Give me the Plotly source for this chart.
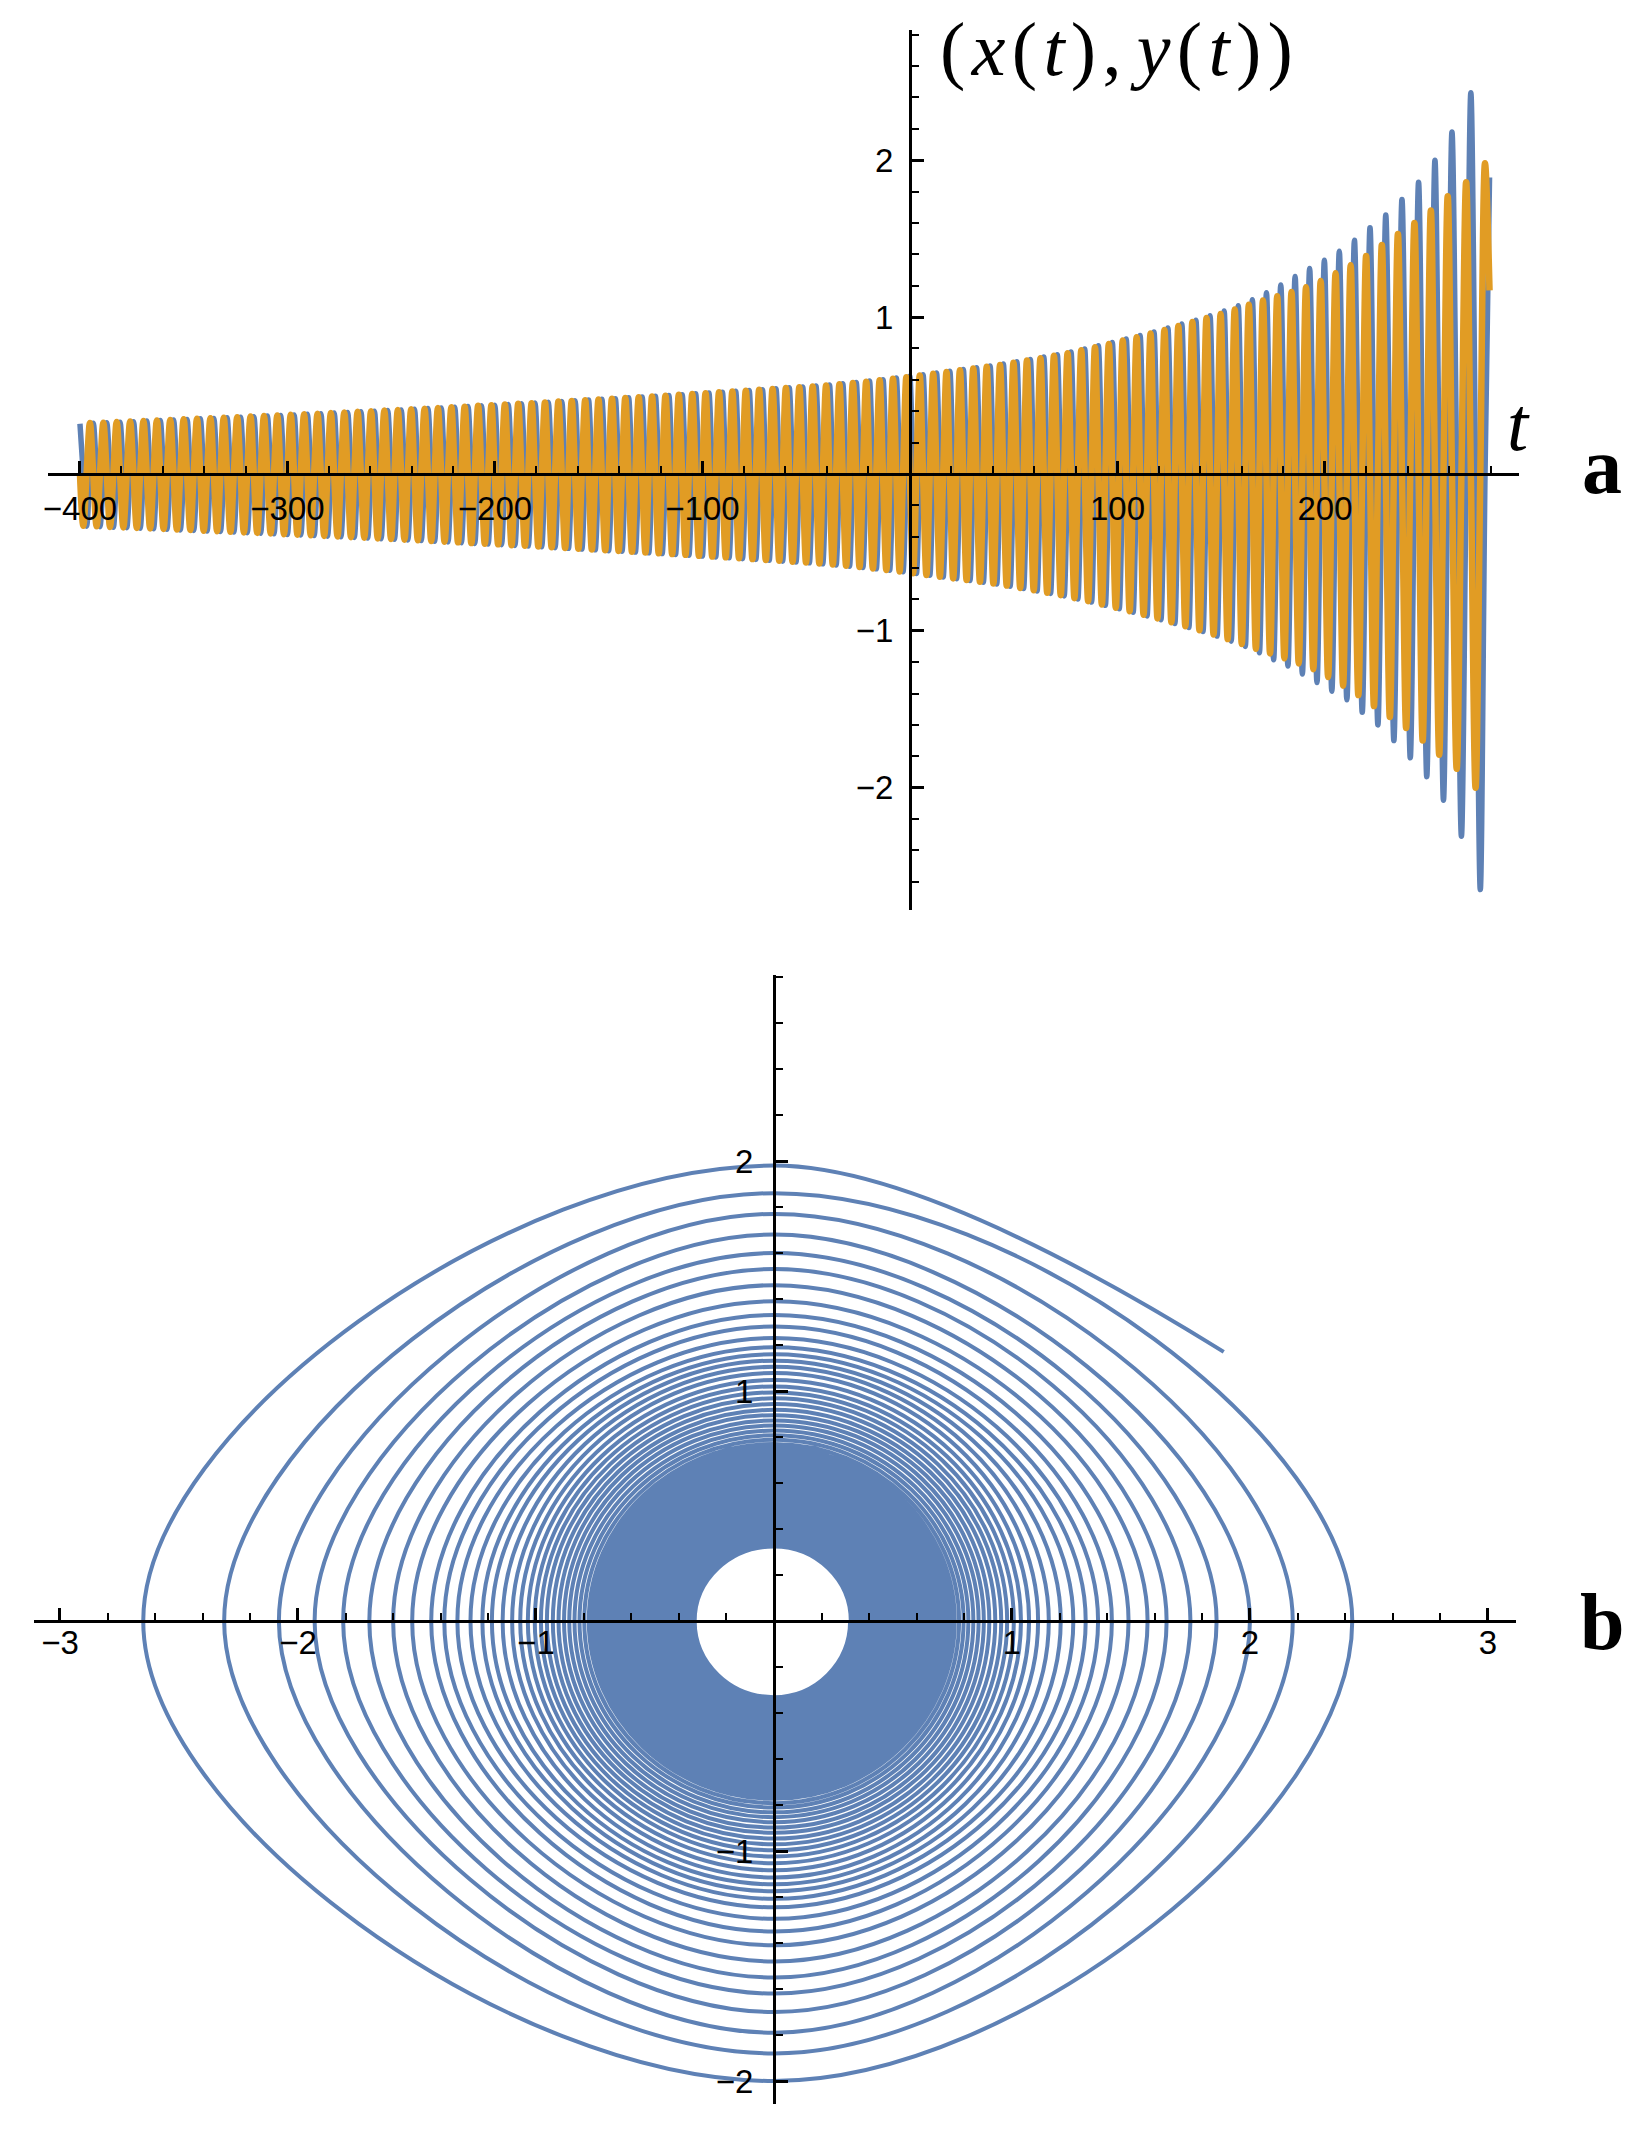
import plotly.graph_objects as go

# ---------------- data ----------------
# time of every maximum of x(t) (one per turn of the spiral)
t_xmax = [-400.0, -393.6, -387.1, -380.7, -374.2, -367.8, -361.3, -354.9, -348.4, -342.0,
          -335.5, -329.1, -322.6, -316.2, -309.7, -303.3, -296.8, -290.4, -283.9, -277.5,
          -271.0, -264.6, -258.1, -251.7, -245.2, -238.8, -232.3, -225.9, -219.4, -213.0,
          -206.5, -200.1, -193.6, -187.2, -180.7, -174.3, -167.8, -161.4, -154.9, -148.5,
          -142.0, -135.6, -129.1, -122.7, -116.2, -109.8, -103.3, -96.9, -90.4, -84.0,
          -77.5, -71.1, -64.6, -58.2, -51.7, -45.3, -38.8, -32.4, -25.9, -19.5,
          -13.0, -6.6, -0.1, 6.3, 12.8, 19.2, 25.7, 32.1, 38.6,
          45.0, 51.5, 58.0, 64.5, 71.0, 77.6, 84.2, 90.8, 97.5, 104.2,
          110.9, 117.6, 124.3, 131.0, 137.8, 144.6, 151.4, 158.2, 165.0, 171.8,
          178.7, 185.6, 192.6, 199.7, 206.9, 214.2, 221.7, 229.3, 237.1, 245.1,
          253.0, 261.2, 270.3]

# x maximum of each turn (right crossing of the spiral)
x_max = [0.320, 0.323, 0.327, 0.330, 0.333, 0.337, 0.340, 0.344, 0.347, 0.351,
         0.354, 0.358, 0.362, 0.365, 0.369, 0.373, 0.376, 0.380, 0.384, 0.388,
         0.392, 0.396, 0.400, 0.404, 0.408, 0.412, 0.417, 0.421, 0.425, 0.430,
         0.434, 0.438, 0.443, 0.447, 0.452, 0.457, 0.461, 0.466, 0.471, 0.476,
         0.480, 0.485, 0.490, 0.495, 0.500, 0.505, 0.511, 0.516, 0.521, 0.527,
         0.532, 0.537, 0.543, 0.549, 0.554, 0.560, 0.567, 0.575, 0.583, 0.592,
         0.601, 0.611, 0.622, 0.633, 0.644, 0.655, 0.666, 0.677, 0.688,
         0.700, 0.715, 0.730, 0.745, 0.760, 0.778, 0.797, 0.817, 0.838, 0.860,
         0.882, 0.905, 0.930, 0.955, 0.980, 1.008, 1.038, 1.072, 1.110, 1.155,
         1.205, 1.258, 1.310, 1.362, 1.420, 1.490, 1.570, 1.650, 1.750, 1.860,
         2.000, 2.180, 2.430]

# y minimum of each turn (bottom crossing)
y_min = [-0.331, -0.334, -0.338, -0.341, -0.344, -0.348, -0.351, -0.355, -0.358, -0.362,
         -0.365, -0.369, -0.373, -0.376, -0.380, -0.384, -0.387, -0.391, -0.395, -0.399,
         -0.403, -0.407, -0.411, -0.415, -0.419, -0.423, -0.428, -0.432, -0.436, -0.441,
         -0.445, -0.449, -0.454, -0.458, -0.463, -0.468, -0.472, -0.477, -0.482, -0.487,
         -0.491, -0.496, -0.501, -0.506, -0.511, -0.516, -0.522, -0.527, -0.532, -0.538,
         -0.543, -0.548, -0.554, -0.560, -0.565, -0.571, -0.578, -0.586, -0.594, -0.603,
         -0.612, -0.622, -0.633, -0.644, -0.655, -0.666, -0.677, -0.688, -0.699,
         -0.712, -0.727, -0.742, -0.757, -0.773, -0.792, -0.811, -0.832, -0.853, -0.875,
         -0.898, -0.921, -0.946, -0.971, -0.997, -1.024, -1.053, -1.084, -1.115, -1.145,
         -1.175, -1.208, -1.245, -1.295, -1.350, -1.410, -1.480, -1.550, -1.620, -1.700,
         -1.790, -1.880, -2.000]

# x minimum of each turn (left crossing)
x_min = [-0.333, -0.336, -0.340, -0.343, -0.346, -0.350, -0.353, -0.357, -0.360, -0.364,
         -0.367, -0.371, -0.375, -0.378, -0.382, -0.386, -0.389, -0.393, -0.397, -0.401,
         -0.405, -0.409, -0.413, -0.417, -0.421, -0.425, -0.430, -0.434, -0.438, -0.443,
         -0.447, -0.451, -0.456, -0.460, -0.465, -0.470, -0.474, -0.479, -0.484, -0.489,
         -0.493, -0.498, -0.503, -0.508, -0.513, -0.518, -0.524, -0.529, -0.534, -0.540,
         -0.545, -0.550, -0.556, -0.562, -0.567, -0.573, -0.580, -0.588, -0.596, -0.605,
         -0.614, -0.624, -0.635, -0.646, -0.657, -0.668, -0.679, -0.690, -0.701,
         -0.716, -0.731, -0.746, -0.762, -0.778, -0.797, -0.817, -0.838, -0.860, -0.882,
         -0.905, -0.929, -0.954, -0.979, -1.005, -1.034, -1.066, -1.100, -1.140, -1.185,
         -1.225, -1.275, -1.330, -1.385, -1.440, -1.520, -1.600, -1.700, -1.810, -1.930,
         -2.080, -2.310, -2.650]

# y maximum of each turn (top crossing)
y_max = [0.324, 0.327, 0.331, 0.334, 0.337, 0.341, 0.344, 0.348, 0.351, 0.355,
         0.358, 0.362, 0.366, 0.369, 0.373, 0.377, 0.380, 0.384, 0.388, 0.392,
         0.396, 0.400, 0.404, 0.408, 0.412, 0.416, 0.421, 0.425, 0.429, 0.434,
         0.438, 0.442, 0.447, 0.451, 0.456, 0.461, 0.465, 0.470, 0.475, 0.480,
         0.484, 0.489, 0.494, 0.499, 0.504, 0.509, 0.515, 0.520, 0.525, 0.531,
         0.536, 0.541, 0.547, 0.553, 0.558, 0.564, 0.571, 0.579, 0.588, 0.597,
         0.606, 0.617, 0.628, 0.639, 0.650, 0.661, 0.672, 0.683, 0.694,
         0.708, 0.723, 0.738, 0.753, 0.770, 0.788, 0.808, 0.828, 0.850, 0.872,
         0.895, 0.918, 0.943, 0.968, 0.994, 1.020, 1.048, 1.078, 1.105, 1.132,
         1.160, 1.190, 1.230, 1.280, 1.330, 1.390, 1.460, 1.530, 1.600, 1.680,
         1.770, 1.860, 1.980]

# last sample of the trajectory
t_end, x_end, y_end = 279.3, 1.89, 1.17

x_tick_vals_a = [-400, -300, -200, -100, 100, 200]
x_tick_text_a = ["\u2212400", "\u2212300", "\u2212200", "\u2212100", "100", "200"]
y_tick_vals_a = [-2, -1, 1, 2]
y_tick_text_a = ["\u22122", "\u22121", "1", "2"]
x_tick_vals_b = [-3, -2, -1, 1, 2, 3]
x_tick_text_b = ["\u22123", "\u22122", "\u22121", "1", "2", "3"]
y_tick_vals_b = [-2, -1, 1, 2]
y_tick_text_b = ["\u22122", "\u22121", "1", "2"]

BLUE = "#5E81B5"
ORANGE = "#E19C24"

# ------------- trajectory sampled at every quarter turn -------------
t_q, x_q, y_q = [], [], []
n = len(t_xmax)
for k in range(n):
    t0 = t_xmax[k]
    period = (t_xmax[k + 1] - t0) if k + 1 < n else (t0 - t_xmax[k - 1])
    t_q += [t0, t0 + period / 4, t0 + period / 2, t0 + 3 * period / 4]
    x_q += [x_max[k], 0.0, x_min[k], 0.0]
    y_q += [0.0, y_min[k], 0.0, y_max[k]]

# ------------- phase portrait as a chain of cubic arcs (axis units) -------------
def roundness(amp):
    # near-circular inner turns, rounded-diamond outer turns
    f = min(max((amp - 0.9) / 1.1, 0.0), 1.0)
    return 0.552 - 0.13 * f


path = "M {:.4f},{:.4f}".format(x_q[0], y_q[0])
for i in range(len(x_q) - 1):
    p = (x_q[i], y_q[i])
    q = (x_q[i + 1], y_q[i + 1])
    c = roundness(max(abs(p[0]), abs(p[1]), abs(q[0]), abs(q[1])))
    c1 = (p[0] + c * q[0], p[1] + c * q[1])
    c2 = (q[0] + c * p[0], q[1] + c * p[1])
    path += " C {:.4f},{:.4f} {:.4f},{:.4f} {:.4f},{:.4f}".format(c1[0], c1[1], c2[0], c2[1], q[0], q[1])
# final partial arc from the last top crossing to the end sample
path += " Q {:.4f},{:.4f} {:.4f},{:.4f}".format(x_end / 3, y_q[-1], x_end, y_end)

t_q.append(t_end)
x_q.append(x_end)
y_q.append(y_end)

fig = go.Figure()
fig.add_trace(go.Scatter(x=t_q, y=x_q, mode="lines", xaxis="x", yaxis="y",
                         line=dict(color=BLUE, width=5.5, shape="spline"),
                         hoverinfo="skip"))
fig.add_trace(go.Scatter(x=t_q, y=y_q, mode="lines", xaxis="x", yaxis="y",
                         line=dict(color=ORANGE, width=6.5, shape="spline"),
                         hoverinfo="skip"))
# carrier trace for panel b (the visible curve is the arc chain below)
fig.add_trace(go.Scatter(x=x_q, y=y_q, mode="lines", xaxis="x2", yaxis="y2",
                         line=dict(color=BLUE, width=0), opacity=0,
                         hoverinfo="skip"))

# the page body has an 8 px default margin: work in screen pixels and convert
OFF = 8
W, H = 1644 - OFF, 2135 - OFF


def px(xp):
    return (xp - OFF) / W


def py(yp):
    return 1 - (yp - OFF) / H


TICKFONT = dict(family="Liberation Sans, Arial, sans-serif", size=33, color="black")
SERIF = "Liberation Serif, DejaVu Serif, serif"
MINOR = dict(ticks="inside", ticklen=7, tickwidth=2, tickcolor="black", tickmode="linear", tick0=0)


def axis(**kw):
    base = dict(showline=True, linecolor="black", linewidth=3, showgrid=False,
                zeroline=False, ticks="inside", ticklen=12, tickwidth=2.5,
                tickcolor="black", tickmode="array", tickfont=TICKFONT,
                anchor="free", fixedrange=True, automargin=False)
    base.update(kw)
    return base


HS = "\u200a"  # hair space, to reproduce the loose math typesetting
label_a = ("(" + HS + "<i>x</i>" + HS + "(" + HS + "<i>t</i>" + HS + ")" + HS + ","
           + "\u2009<i>y</i>" + HS + "(" + HS + "<i>t</i>" + HS + ")" + HS + ")")

fig.update_layout(
    width=W, height=H, autosize=False,
    margin=dict(l=0, r=0, t=0, b=0),
    paper_bgcolor="white", plot_bgcolor="rgba(0,0,0,0)",
    showlegend=False,
    xaxis=axis(domain=[px(48), px(1519)], range=[-415.4, 293.5],
               position=py(474), tickvals=x_tick_vals_a, ticktext=x_tick_text_a,
               minor=dict(MINOR, dtick=20), ticklabelstandoff=4),
    yaxis=axis(domain=[py(910), py(30)], range=[-2.78, 2.83],
               position=px(910), tickvals=y_tick_vals_a, ticktext=y_tick_text_a,
               minor=dict(MINOR, dtick=0.2), ticklabelstandoff=9),
    xaxis2=axis(domain=[px(34), px(1516)], range=[-3.109, 3.118],
                position=py(1621), tickvals=x_tick_vals_b, ticktext=x_tick_text_b,
                minor=dict(MINOR, dtick=0.2), ticklabelstandoff=-9),
    yaxis2=axis(domain=[py(2104), py(974.7)], range=[-2.10, 2.81],
                position=px(774), tickvals=y_tick_vals_b, ticktext=y_tick_text_b,
                minor=dict(MINOR, dtick=0.2), ticklabelstandoff=13),
    shapes=[dict(type="path", path=path, xref="x2", yref="y2", layer="below",
                 line=dict(color=BLUE, width=4.0), fillcolor="rgba(0,0,0,0)")],
    annotations=[
        dict(text=label_a, xref="paper", yref="paper",
             x=px(938), y=py(50), xanchor="left", yanchor="middle", showarrow=False,
             font=dict(family=SERIF, size=76, color="black")),
        dict(text="<i>t</i>", xref="paper", yref="paper",
             x=px(1518), y=py(424), xanchor="center", yanchor="middle", showarrow=False,
             font=dict(family=SERIF, size=76, color="black")),
        dict(text="<b>a</b>", xref="paper", yref="paper",
             x=px(1602), y=py(466), xanchor="center", yanchor="middle", showarrow=False,
             font=dict(family=SERIF, size=80, color="black")),
        dict(text="<b>b</b>", xref="paper", yref="paper",
             x=px(1602), y=py(1622), xanchor="center", yanchor="middle", showarrow=False,
             font=dict(family=SERIF, size=80, color="black")),
    ],
)

fig.write_html("out.html")
